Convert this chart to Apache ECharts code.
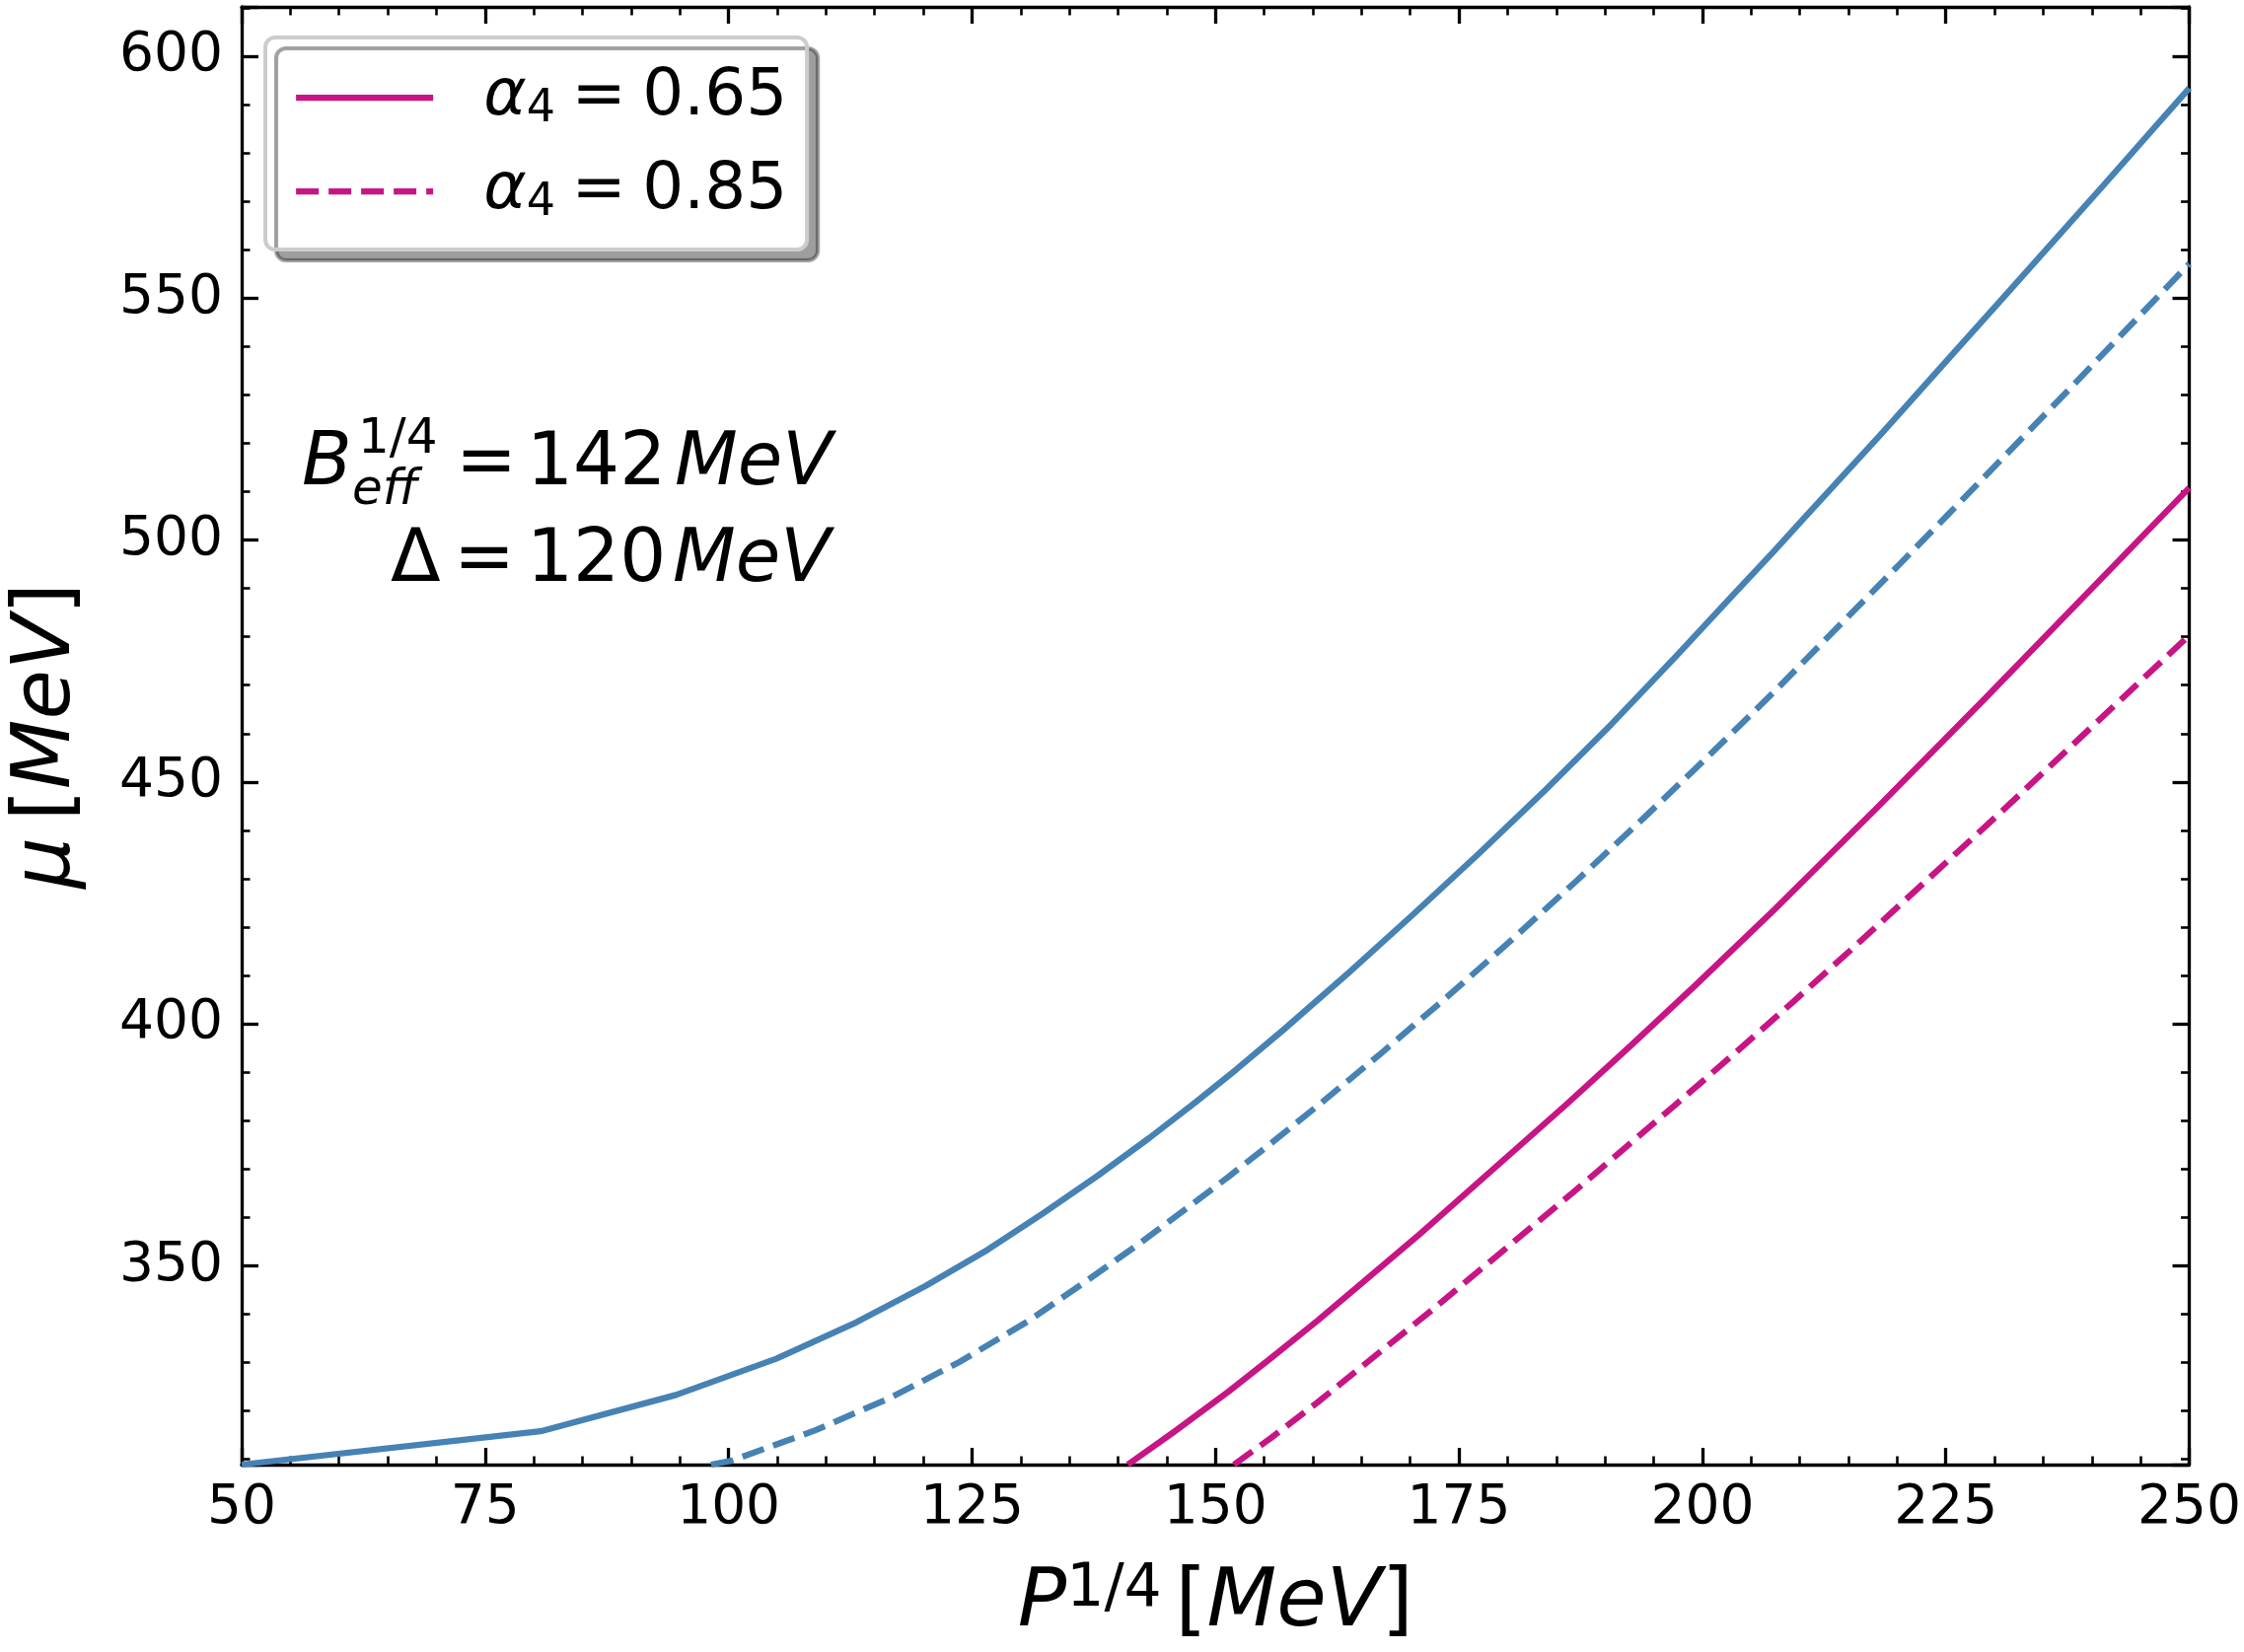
<!DOCTYPE html>
<html>
<head>
<meta charset="utf-8">
<script src="https://cdn.jsdelivr.net/npm/echarts@6/dist/echarts.min.js"></script>
<style>
html,body{margin:0;padding:0;background:#fff;}
#chart{width:2275px;height:1675px;}
</style>
</head>
<body>
<div id="chart"></div>
<script>
// ---- data ----
const xTicks = [50, 75, 100, 125, 150, 175, 200, 225, 250];
const yTicks = [350, 400, 450, 500, 550, 600];

const pBlueSolid  = [50, 80.7, 94.6, 104.9, 113.1, 120.2, 126.6, 132.2, 137.9, 143.2, 147.9, 152.1, 157.0, 163.7, 170.4, 177.1, 183.8, 190.6, 197.3, 203.3, 207.4, 210.3, 218.4, 225.1, 230.8, 241.0, 250];
const muBlueSolid = [308.9, 315.8, 323.3, 330.8, 338.3, 345.8, 353.3, 360.7, 368.6, 376.4, 383.7, 390.5, 398.8, 410.6, 422.8, 435.3, 448.2, 461.8, 476.0, 489.0, 497.8, 504.2, 522.0, 537.1, 549.9, 572.9, 593.4];

const pBlueDashed  = [98.2, 100.3, 108.8, 116.6, 123.7, 130.8, 136.5, 142.2, 147.2, 151.4, 155.7, 160.7, 167.0, 173.8, 180.5, 187.2, 193.9, 200.6, 207.4, 220.2, 225.1, 237.5, 250];
const muBlueDashed = [308.9, 309.7, 315.9, 322.7, 330.1, 338.6, 346.5, 354.6, 362.1, 368.5, 375.3, 383.4, 393.9, 405.6, 417.5, 429.8, 442.4, 455.3, 468.7, 494.9, 505.0, 530.8, 557.1];

const pMagSolid  = [141.0, 145.7, 151.4, 155.7, 160.5, 171.0, 185.9, 192.6, 199.3, 207.4, 218.1, 228.9, 242.5, 250];
const muMagSolid = [308.9, 315.6, 324.1, 330.9, 338.7, 356.6, 383.1, 395.4, 408.0, 423.6, 445.0, 467.0, 495.2, 510.8];

const pMagDashed  = [151.9, 155.7, 160.5, 172.2, 186.8, 197.3, 204.0, 209.4, 215.1, 230.9, 250];
const muMagDashed = [308.9, 314.4, 321.8, 340.8, 365.3, 383.4, 395.1, 404.7, 415.0, 444.2, 480.3];

const alphaValues = ['0.65', '0.85'];
const seriesNames = ['α4 = 0.65', 'α4 = 0.85', 'α4 = 0.65 (blue)', 'α4 = 0.85 (blue)'];

// ---- styling ----
const FONT = 'DejaVu Sans';
const BLUE = '#4682B4';
const MAGENTA = '#C71585';
const LW = 6.25;
const DASH = [23, 10];
const X_MIN = 50, X_MAX = 250, X_INT = 25;
const Y_MIN = 308.9, Y_MAX = 610.2;

function pairs(xs, ys) { return xs.map((x, i) => [x, ys[i]]); }

function axisCommon(showLabels) {
  return {
    axisLine: { show: true, onZero: false, lineStyle: { color: '#000', width: 3.3 } },
    axisTick: { show: true, inside: true, length: 17, lineStyle: { color: '#000', width: 3.3 } },
    minorTick: { show: true, splitNumber: 5, length: 8.5, lineStyle: { color: '#000', width: 2.6 } },
    splitLine: { show: false },
    minorSplitLine: { show: false },
    axisLabel: { show: showLabels, color: '#000', fontFamily: FONT, fontSize: 55 }
  };
}

const xBottom = Object.assign(axisCommon(true), {
  type: 'value', position: 'bottom', min: X_MIN, max: X_MAX, interval: X_INT,
  name: '{i|P}{sup|1/4}{n|\u2006[}{i|MeV}{n|]}',
  nameLocation: 'middle', nameGap: 142, nameMoveOverlap: false,
  nameTextStyle: {
    color: '#000', align: 'center', verticalAlign: 'middle',
    rich: {
      i: { fontFamily: FONT, fontStyle: 'italic', fontSize: 82, lineHeight: 90, color: '#000' },
      n: { fontFamily: FONT, fontSize: 82, lineHeight: 90, color: '#000' },
      sup: { fontFamily: FONT, fontSize: 60, lineHeight: 33, verticalAlign: 'top', color: '#000' }
    }
  }
});
xBottom.axisLabel.margin = 17;
xBottom.axisLabel.formatter = v => (xTicks.indexOf(v) >= 0 ? String(v) : '');

const xTop = Object.assign(axisCommon(false), {
  type: 'value', position: 'top', min: X_MIN, max: X_MAX, interval: X_INT
});

const yLeft = Object.assign(axisCommon(true), {
  type: 'value', position: 'left', min: Y_MIN, max: Y_MAX, splitNumber: 6,
  name: '{i|μ}{n|\u2009[}{i|MeV}{n|]}',
  nameLocation: 'middle', nameGap: 196, nameRotate: 90, nameMoveOverlap: false,
  nameTextStyle: {
    color: '#000', align: 'center', verticalAlign: 'middle',
    rich: {
      i: { fontFamily: FONT, fontStyle: 'italic', fontSize: 82, lineHeight: 90, color: '#000' },
      n: { fontFamily: FONT, fontSize: 82, lineHeight: 90, color: '#000' }
    }
  }
});
yLeft.axisLabel.margin = 19;
yLeft.axisLabel.formatter = v => (yTicks.some(t => Math.abs(t - v) < 1e-6) ? String(Math.round(v)) : '');

const yRight = Object.assign(axisCommon(false), {
  type: 'value', position: 'right', min: Y_MIN, max: Y_MAX, splitNumber: 6
});

function lineSeries(name, xs, ys, color, dashed) {
  return {
    name: name, type: 'line', xAxisIndex: 0, yAxisIndex: 0,
    data: pairs(xs, ys), symbol: 'none', showSymbol: false, smooth: false, clip: true,
    lineStyle: { color: color, width: LW, type: dashed ? DASH : 'solid', join: 'round', cap: 'butt' },
    itemStyle: { color: color },
    emphasis: { disabled: true }, silent: true, animation: false
  };
}

// annotation pieces: [text, x, baselineY, size, italic]
const annot = [
  ['B', 306, 497, 74, true],
  ['1/4', 363, 463, 50, false],
  ['eff', 357, 515, 50, true],
  ['=', 462, 497, 74, false],
  ['142', 534, 497, 74, false],
  ['MeV', 684, 497, 74, true],
  ['Δ', 396, 595, 74, false],
  ['=', 460, 595, 74, false],
  ['120', 534, 595, 74, false],
  ['MeV', 682, 595, 74, true]
];
const graphics = annot.map(a => ({
  type: 'text', x: a[1], y: a[2] - 0.346 * a[3], silent: true, z: 100,
  style: {
    text: a[0], fill: '#000', align: 'left', verticalAlign: 'middle',
    font: (a[4] ? 'italic ' : '') + a[3] + 'px "' + FONT + '"'
  }
}));

const option = {
  backgroundColor: '#ffffff',
  animation: false,
  textStyle: { fontFamily: FONT, color: '#000' },
  grid: { left: 239, right: 52, top: 7, bottom: 190, containLabel: false, show: false },
  xAxis: [xBottom, xTop],
  yAxis: [yLeft, yRight],
  legend: {
    show: true, orient: 'vertical', left: 269, top: 38,
    selectedMode: false,
    data: [
      { name: seriesNames[0], lineStyle: { width: LW, type: 'solid', color: MAGENTA }, itemStyle: { opacity: 0 } },
      { name: seriesNames[1], lineStyle: { width: LW, type: DASH, color: MAGENTA }, itemStyle: { opacity: 0 } }
    ],
    itemWidth: 139, itemHeight: 30, itemGap: 27,
    itemStyle: { opacity: 0 },
    lineStyle: { width: LW },
    padding: [28, 20, 24, 28],
    backgroundColor: '#ffffff',
    borderColor: '#cccccc', borderWidth: 4, borderRadius: 10,
    shadowColor: 'rgba(0,0,0,0.38)', shadowBlur: 1, shadowOffsetX: 11, shadowOffsetY: 11,
    formatter: function (name) {
      const idx = seriesNames.indexOf(name);
      return '{a|α}{s|4}{n|\u2005=\u2005' + alphaValues[idx] + '}';
    },
    textStyle: {
      color: '#000',
      rich: {
        a: { fontFamily: FONT, fontStyle: 'italic', fontSize: 66, lineHeight: 70, color: '#000', padding: [0, 0, 0, 46] },
        s: { fontFamily: FONT, fontSize: 46, lineHeight: 37, verticalAlign: 'bottom', color: '#000' },
        n: { fontFamily: FONT, fontSize: 66, lineHeight: 70, color: '#000' }
      }
    }
  },
  series: [
    lineSeries(seriesNames[2], pBlueSolid, muBlueSolid, BLUE, false),
    lineSeries(seriesNames[3], pBlueDashed, muBlueDashed, BLUE, true),
    lineSeries(seriesNames[0], pMagSolid, muMagSolid, MAGENTA, false),
    lineSeries(seriesNames[1], pMagDashed, muMagDashed, MAGENTA, true)
  ],
  graphic: graphics
};

const chart = echarts.init(document.getElementById('chart'), null, { renderer: 'canvas', width: 2275, height: 1675 });
chart.setOption(option);
</script>
</body>
</html>
